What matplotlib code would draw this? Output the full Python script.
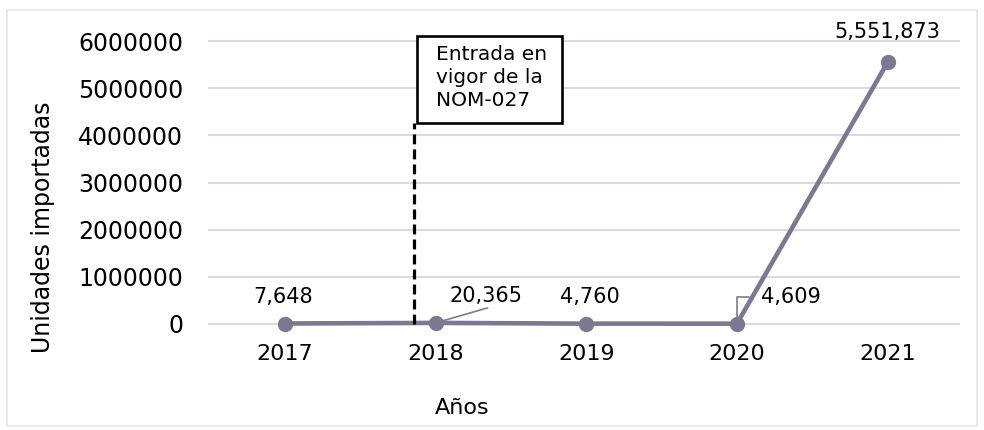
import matplotlib.pyplot as plt
from matplotlib.patches import Rectangle

# Data
years = ["2017", "2018", "2019", "2020", "2021"]
units = [7648, 20365, 4760, 4609, 5551873]
value_labels = ["7,648", "20,365", "4,760", "4,609", "5,551,873"]
y_ticks = [0, 1000000, 2000000, 3000000, 4000000, 5000000, 6000000]
nom_position = 0.86  # entrada en vigor, just before 2018
nom_text = "Entrada en\nvigor de la\nNOM-027"

LINE = "#7b7991"
GRID = "#d6d4e2"

plt.rcParams["font.family"] = ["DejaVu Sans"]

W, H = 984, 430
fig = plt.figure(figsize=(W / 100, H / 100), dpi=100)
ax = fig.add_axes([208 / W, 1 - 338 / H, 752 / W, 311 / H])

x = list(range(len(years)))
ax.plot(x, units, color=LINE, linewidth=3.3, marker="o", markersize=10,
        markerfacecolor=LINE, markeredgecolor=LINE, zorder=3)

ax.set_xlim(-0.51, 4.48)
ax.set_ylim(-300000, 6300000)
ax.set_yticks(y_ticks)
ax.set_yticklabels([str(v) for v in y_ticks])
ax.set_xticks(x)
ax.set_xticklabels(years)
ax.tick_params(axis="x", length=0, labelsize=16, pad=4)
ax.tick_params(axis="y", length=0, labelsize=17, pad=18)
ax.grid(axis="y", color=GRID, linewidth=1.3)
ax.set_axisbelow(True)
for s in ax.spines.values():
    s.set_visible(False)

ax.set_xlabel("Años", fontsize=16)
ax.xaxis.set_label_coords(0.338, -0.192)
ax.set_ylabel("Unidades importadas", fontsize=17)
ax.yaxis.set_label_coords(-0.203, 0.355)

# value labels
LFS = 15
ax.annotate(value_labels[0], (0, units[0]), xytext=(-2, 27), textcoords="offset pixels",
            ha="center", va="center", fontsize=LFS)
ax.annotate(value_labels[1], (1, units[1]), xytext=(50, 27), textcoords="offset pixels",
            ha="center", va="center", fontsize=LFS)
ax.annotate("", (1, units[1]), xytext=(52, 15), textcoords="offset pixels",
            arrowprops=dict(arrowstyle="-", color=LINE, lw=1.2, shrinkA=0, shrinkB=4))
ax.annotate(value_labels[2], (2, units[2]), xytext=(4, 27), textcoords="offset pixels",
            ha="center", va="center", fontsize=LFS)
ax.annotate(value_labels[3], (3, units[3]), xytext=(54, 27), textcoords="offset pixels",
            ha="center", va="center", fontsize=LFS,
            arrowprops=dict(arrowstyle="-", color=LINE, lw=1.2, shrinkA=7, shrinkB=3,
                            connectionstyle="angle,angleA=0,angleB=90,rad=0"))
ax.annotate(value_labels[4], (4, units[4]), xytext=(0, 30), textcoords="offset pixels",
            ha="center", va="center", fontsize=LFS)

# NOM-027 marker
ax.plot([nom_position, nom_position], [0, 4260000], color="black", linewidth=2.3,
        linestyle=(0, (3.1, 1.6)), zorder=4)
fig.patches.append(Rectangle((417 / W, 1 - 123 / H), 145 / W, 87 / H,
                             transform=fig.transFigure, facecolor="white",
                             edgecolor="black", linewidth=1.9, zorder=5))
fig.text(436 / W, 1 - 45 / H, nom_text, ha="left", va="top", fontsize=14.5,
         linespacing=1.25, zorder=6)

# faint outer frame
fig.patches.append(Rectangle((7 / W, 1 - 426 / H), 970 / W, 416 / H,
                             transform=fig.transFigure, facecolor="none",
                             edgecolor="#e4e4ea", linewidth=1.2))

fig.savefig("out.png", dpi=100)
